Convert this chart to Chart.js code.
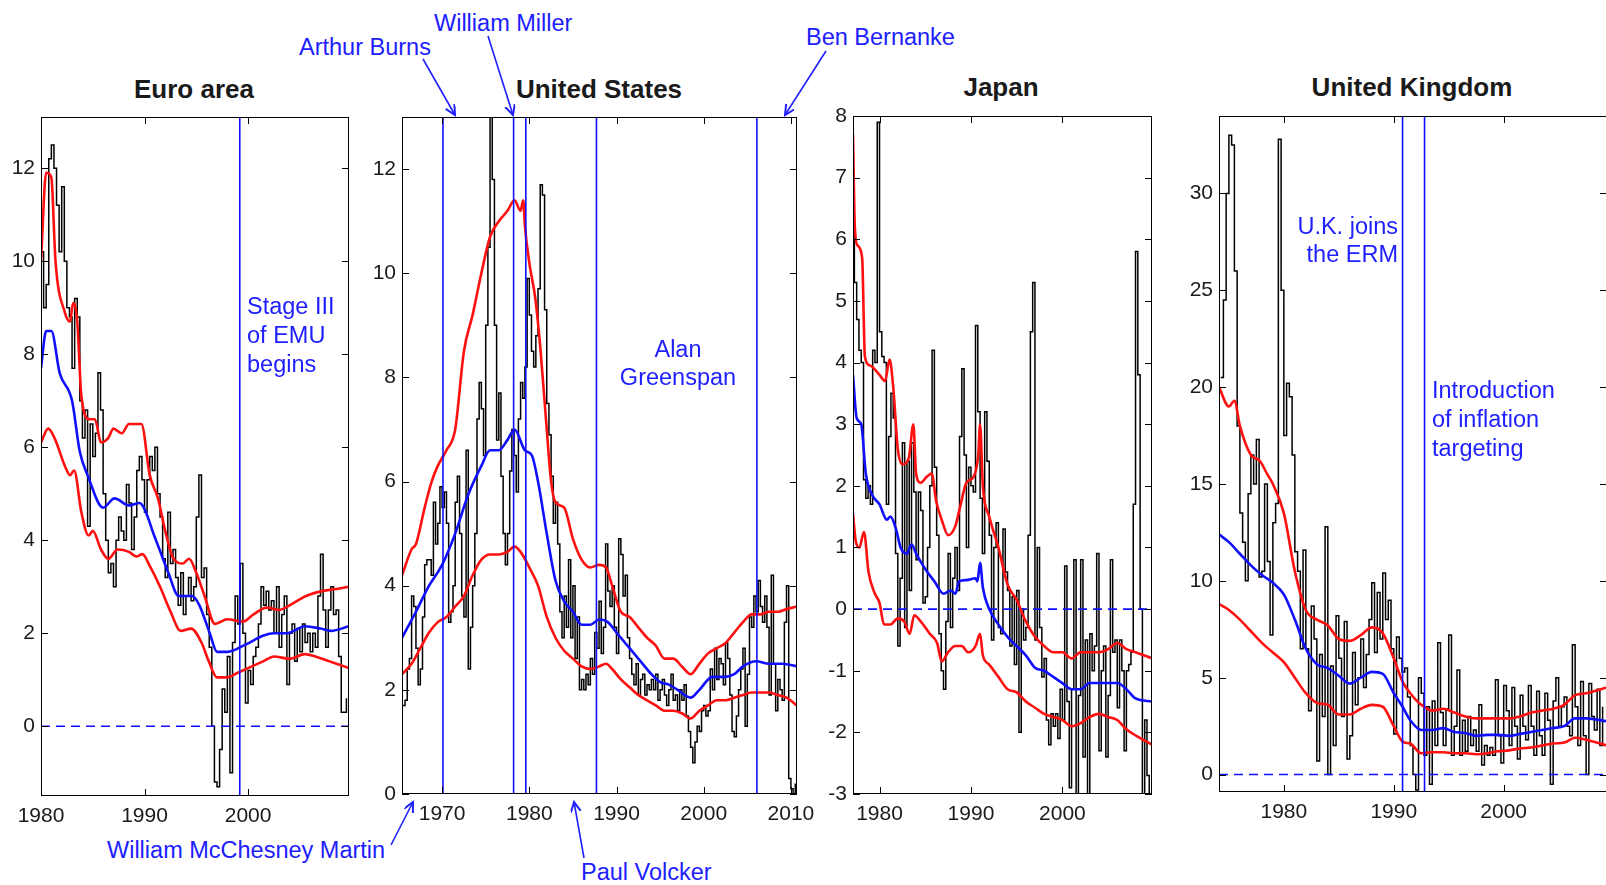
<!DOCTYPE html>
<html>
<head>
<meta charset="utf-8">
<script src="https://cdn.jsdelivr.net/npm/chart.js@4.4.0/dist/chart.umd.min.js"></script>
<style>
  body { margin: 0; background: #fff; width: 1606px; height: 885px; overflow: hidden; position: relative;
         font-family: "Liberation Sans", Arial, sans-serif; }
  canvas { position: absolute; }
  .title { position: absolute; font-weight: bold; font-size: 26px; color: #1a1a1a;
           transform: translate(-50%, -50%); white-space: nowrap; }
  .note { position: absolute; color: #2020ff; font-size: 23.5px; line-height: 29px; white-space: nowrap; }
  svg { position: absolute; left: 0; top: 0; }
</style>
</head>
<body>

<div class="title" style="left:194px;top:89px">Euro area</div>
<div class="title" style="left:599px;top:89px">United States</div>
<div class="title" style="left:1001px;top:87px">Japan</div>
<div class="title" style="left:1412px;top:87px">United Kingdom</div>

<canvas id="euroChart"></canvas>
<canvas id="usChart"></canvas>
<canvas id="japanChart"></canvas>
<canvas id="ukChart"></canvas>

<div class="note" style="left:247px;top:292px">Stage III<br>of EMU<br>begins</div>
<div class="note" style="left:678px;top:335px;transform:translateX(-50%);text-align:center;line-height:28px">Alan<br>Greenspan</div>
<div class="note" style="right:208px;top:212px;text-align:right;line-height:28px">U.K. joins<br>the ERM</div>
<div class="note" style="left:1432px;top:376px">Introduction<br>of inflation<br>targeting</div>
<div class="note" style="left:299px;top:33px">Arthur Burns</div>
<div class="note" style="left:434px;top:9px">William Miller</div>
<div class="note" style="left:806px;top:23px">Ben Bernanke</div>
<div class="note" style="left:107px;top:836px">William McChesney Martin</div>
<div class="note" style="left:581px;top:858px">Paul Volcker</div>

<svg width="1606" height="885">
  <defs>
    <marker id="head" markerWidth="12" markerHeight="12" refX="10" refY="5" orient="auto" markerUnits="userSpaceOnUse">
      <path d="M0,0 L10,5 L0,10" fill="none" stroke="#2020ff" stroke-width="2"/>
    </marker>
  </defs>
  <g stroke="#2020ff" stroke-width="1.6" marker-end="url(#head)">
    <line x1="423" y1="59" x2="455" y2="115"/>
    <line x1="488" y1="36" x2="513" y2="115"/>
    <line x1="826" y1="51" x2="785" y2="115"/>
    <line x1="391" y1="845" x2="413" y2="802"/>
    <line x1="584" y1="858" x2="574" y2="802"/>
  </g>
</svg>

<script>
// ---- data: black = observed inflation (quarterly, first value at *Start), blue = trend, red = bands

const euroStart = 1980;
const euroLevel = [
  10.2, 9.0, 9.5, 12.2, 12.5, 12.0, 11.2, 10.2, 11.6, 10.0, 9.0, 8.8, 7.7, 9.2, 8.8, 7.0, 6.2, 6.8, 4.3, 6.5,
  5.8, 6.3, 7.6, 6.8, 5.0, 4.0, 3.3, 3.5, 3.0, 4.0, 4.5, 4.2, 4.0, 5.2, 4.8, 3.8, 4.5, 5.5, 5.8, 5.3,
  4.6, 5.3, 5.8, 5.5, 6.0, 5.0, 4.5, 3.6, 3.2, 4.6, 3.5, 3.8, 3.2, 2.6, 3.3, 2.4, 2.8, 3.2, 2.7, 3.0,
  4.5, 5.4, 3.2, 3.4, 2.4, 1.7, 0.0, -1.2, -1.3, -0.5, 0.8, 0.3, 1.5, -1.0, 1.8, 2.8, 2.2, 3.5, 2.0, 0.5,
  1.2, 0.9, 1.5, 1.7, 2.2, 3.0, 2.6, 2.9, 2.5, 2.7, 2.0, 3.0, 1.7, 2.4, 2.8, 0.9, 2.0, 2.2, 1.4, 2.1,
  1.6, 2.2, 1.8, 2.0, 1.6, 2.0, 1.7, 2.8, 3.7, 2.5, 1.7, 2.5, 3.0, 2.4, 2.5, 1.5, 0.3, 0.3, 0.6
];
const euroTrendYears = [1980, 1980.5, 1981, 1981.8, 1983, 1983.75, 1984.5, 1986, 1987.1, 1988.5, 1989.5, 1991.1, 1992.3, 1993.3,
  1994.6, 1995.3, 1996.3, 1997, 1998, 1999.7, 2001.5, 2002.5, 2003.8, 2005.5, 2007, 2008, 2009.75];
const euroTrend = [7.7, 8.5, 8.5, 7.6, 7.0, 5.9, 5.4, 4.7, 4.9, 4.75, 4.8, 4.0, 3.3, 2.8,
  2.8, 2.6, 2.0, 1.6, 1.6, 1.75, 1.95, 2.0, 2.0, 2.15, 2.1, 2.05, 2.15];
const euroUpperYears = [1980, 1980.5, 1981, 1981.4, 1982.3, 1982.8, 1983.1, 1983.5, 1983.9, 1984.7, 1985.2, 1985.8, 1986.5,
  1987, 1987.8, 1988.5, 1989.7, 1990.5, 1991.3, 1992, 1992.8, 1993.7, 1994.3, 1995, 1995.8, 1996.8, 1998, 1999.5,
  2000.5, 2001.8, 2003, 2004, 2005.6, 2007, 2008.5, 2009.75];
const euroUpper = [10.0, 11.9, 11.8, 10.0, 8.9, 8.7, 9.1, 8.7, 7.1, 6.6, 6.6, 6.1, 6.2,
  6.4, 6.3, 6.5, 6.5, 5.4, 4.9, 4.2, 3.6, 3.5, 3.6, 3.3, 2.8, 2.2, 2.3, 2.25,
  2.4, 2.55, 2.5, 2.6, 2.8, 2.9, 2.95, 3.0];
const euroLowerYears = [1980, 1980.7, 1981.3, 1982.3, 1982.8, 1983.2, 1983.9, 1984.6, 1985, 1985.8, 1986.5, 1987.4, 1988.5,
  1989.2, 1989.8, 1990.5, 1991.5, 1992.5, 1993.5, 1994.5, 1995.5, 1996.2, 1997, 1998, 1999, 2000, 2001.5, 2002.5,
  2004, 2005.5, 2006.5, 2007.8, 2009.75];
const euroLower = [6.1, 6.4, 6.2, 5.6, 5.4, 5.5, 4.6, 4.1, 4.2, 3.8, 3.6, 3.8, 3.75,
  3.65, 3.7, 3.45, 3.0, 2.47, 2.05, 2.1, 1.8, 1.4, 1.05, 1.05, 1.15, 1.25, 1.4, 1.5,
  1.45, 1.55, 1.5, 1.4, 1.25];
const euroEvents = [1999.2];
const euroXTicks = [1980, 1990, 2000];
const euroYTicks = [0, 2, 4, 6, 8, 10, 12];

const usStart = 1965.5;
const usLevel = [
  1.7, 1.8, 2.4, 2.6, 3.8, 3.6, 2.8, 2.1, 2.4, 3.4, 4.4, 4.5, 4.5, 4.2, 5.6, 4.8,
  5.2, 5.9, 5.5, 5.8, 5.2, 3.3, 3.5, 4.0, 5.6, 6.1, 5.0, 3.8, 3.4, 6.6, 2.4, 3.2,
  4.0, 5.0, 7.2, 7.9, 7.4, 6.5, 9.0, 10.5, 13.8, 11.8, 9.0, 6.8, 7.7, 6.1, 5.0, 4.4,
  5.0, 6.2, 7.0, 6.5, 5.8, 7.2, 7.9, 7.6, 8.2, 9.9, 9.2, 8.5, 8.2, 8.8, 9.7, 11.7,
  11.5, 9.3, 7.5, 6.9, 6.1, 5.2, 5.6, 4.8, 3.5, 3.0, 3.8, 3.2, 4.5, 3.0, 4.0, 2.6,
  3.4, 2.0, 2.2, 2.0, 2.3, 2.1, 2.6, 2.3, 3.1, 2.8, 3.7, 2.7, 3.2, 4.8, 3.9, 3.6,
  4.0, 3.2, 2.7, 4.9, 4.6, 3.8, 4.2, 3.0, 2.6, 2.3, 2.1, 2.5, 1.9, 2.2, 2.3, 1.9,
  2.1, 2.0, 2.2, 2.0, 2.3, 1.8, 2.0, 2.2, 1.9, 1.7, 2.0, 2.3, 1.8, 1.9, 1.6, 2.0,
  1.8, 2.1, 1.5, 1.2, 0.9, 0.6, 1.0, 1.3, 1.2, 1.6, 1.7, 1.5, 1.6, 2.4, 2.0, 2.8,
  2.2, 2.6, 2.5, 2.1, 2.9, 2.6, 1.9, 1.2, 1.1, 1.5, 2.0, 2.4, 2.8, 1.3, 2.3, 3.4,
  3.2, 3.8, 3.5, 4.1, 3.6, 3.3, 3.8, 3.2, 1.9, 4.2, 2.5, 1.6, 2.2, 2.0, 1.8, 3.3,
  4.0, 0.3, 0.1, 0.0, 0.2
];
const usTrendYears = [1965.4, 1967, 1968.5, 1970, 1971.5, 1973, 1974.5, 1975.5, 1976.5, 1977.5, 1978.3, 1979.5, 1980.3,
  1981, 1982, 1983, 1984, 1985, 1986, 1987, 1988, 1989, 1990, 1991, 1992, 1993, 1994, 1995, 1996, 1997, 1998.5,
  1999.5, 2001, 2002.5, 2003.5, 2004.5, 2006, 2007.5, 2009, 2010.7];
const usTrend = [3.0, 3.5, 4.0, 4.4, 5.0, 5.75, 6.3, 6.6, 6.6, 6.8, 7.0, 6.6, 6.5,
  6.0, 5.0, 4.1, 3.7, 3.5, 3.25, 3.25, 3.35, 3.3, 3.1, 2.9, 2.7, 2.5, 2.3, 2.15, 2.1, 2.0, 1.85,
  2.0, 2.25, 2.25, 2.3, 2.45, 2.55, 2.5, 2.5, 2.45];
const usUpperYears = [1965.4, 1966.5, 1967, 1968, 1968.8, 1969.5, 1970.5, 1971.5, 1972.5, 1973.5, 1974.5, 1975.5, 1976.5,
  1977.5, 1978.3, 1979, 1979.3, 1979.5, 1980, 1980.7, 1981.3, 1982, 1982.5, 1983, 1984, 1985, 1986, 1987, 1988,
  1988.8, 1989.5, 1990.5, 1991.5, 1992.5, 1993.5, 1994.5, 1995.5, 1996.5, 1997.5, 1998.5, 1999.5, 2000.5, 2001.5,
  2002.5, 2003.5, 2004.5, 2005.5, 2006.5, 2007.5, 2008.5, 2009.5, 2010.7];
const usUpper = [4.2, 4.7, 4.8, 5.5, 6.0, 6.3, 6.6, 7.0, 8.5, 9.2, 10.0, 10.7, 11.0,
  11.2, 11.4, 11.2, 11.4, 10.9, 10.2, 9.5, 8.5, 7.0, 6.0, 5.6, 5.5, 4.9, 4.5, 4.35, 4.4,
  4.35, 4.0, 3.5, 3.4, 3.2, 3.0, 2.85, 2.6, 2.6, 2.45, 2.3, 2.5, 2.7, 2.8,
  2.9, 3.1, 3.3, 3.45, 3.45, 3.5, 3.5, 3.55, 3.6];
const usLowerYears = [1965.4, 1966.5, 1967.5, 1968.5, 1969.5, 1970.5, 1971.5, 1972.5, 1973.5, 1974.5, 1975.5, 1976.5, 1977.5,
  1978.3, 1979, 1980, 1981, 1982, 1983, 1984, 1985, 1986, 1987, 1988, 1988.8, 1989.5, 1990.5, 1991.5, 1992.5,
  1993.5, 1994.5, 1995.5, 1996.5, 1997.5, 1998.5, 1999.5, 2000.5, 2001.5, 2002.5, 2003.5, 2004.5, 2005.5, 2006.5,
  2007.5, 2008.5, 2009.5, 2010.7];
const usLower = [2.3, 2.5, 2.8, 3.1, 3.3, 3.4, 3.6, 3.8, 4.2, 4.5, 4.6, 4.6, 4.65,
  4.75, 4.65, 4.35, 4.0, 3.4, 3.0, 2.75, 2.6, 2.45, 2.4, 2.45, 2.5, 2.4, 2.2, 2.05, 1.9,
  1.8, 1.7, 1.6, 1.6, 1.55, 1.45, 1.6, 1.7, 1.8, 1.8, 1.85, 1.9, 1.95, 1.95,
  1.95, 1.9, 1.85, 1.7];
const usEvents = [1970.1, 1978.2, 1979.6, 1987.7, 2006.1];
const usXTicks = [1970, 1980, 1990, 2000, 2010];
const usYTicks = [0, 2, 4, 6, 8, 10, 12];

const japanStart = 1977;
const japanLevel = [
  6.2, 5.3, 4.7, 4.2, 4.0, 2.1, 1.8, 2.0, 1.7, 4.2, 4.0, 7.9, 4.5, 4.1, 4.0, 1.7, 2.8, 3.5, 3.1, 0.9,
  -0.6, 0.5, 2.7, -0.3, 2.4, 0.3, 2.7, 1.9, 0.8, 1.9, 1.6, 0.1, 0.2, 1.0, 2.0, 4.2, 2.3, 1.2, -0.4, -1.0,
  -1.3, -0.2, 0.9, -0.3, 0.5, 1.0, 0.3, 2.8, 3.9, 2.5, 1.0, 2.3, 2.0, 1.9, 4.6, 3.2, 1.8, 0.9, 3.2, 2.4,
  1.2, -0.5, 1.0, 1.4, -0.3, -0.4, 1.3, 0.6, 0.3, -0.6, 0.2, -0.9, 0.3, -2.0, 0.0, -0.5, -0.3, 1.2, 4.5, 5.3,
  -0.5, 1.0, -0.3, -1.1, -0.8, -1.8, -2.2, -1.7, -1.9, -1.7, -2.1, -1.3, -1.8, 0.7, -1.5, -2.9, -1.3, 0.8, -3.0, -1.4,
  0.8, -2.4, -0.5, -3.0, -0.4, -1.0, -0.6, 0.9, -2.3, -1.0, -0.6, -2.4, -1.4, 0.8, -0.7, -0.5, -1.6, -0.5, -1.0, -2.3,
  -1.0, -0.9, -0.7, 1.7, 5.8, 3.8, 0.0, -3.0, -1.8, -2.7, -3.0
];
const japanTrendYears = [1977.1, 1977.5, 1978, 1978.5, 1979.2, 1980, 1980.8, 1981.2, 1981.8, 1982.3, 1983, 1983.5, 1984,
  1985, 1986, 1987, 1987.8, 1988.3, 1988.7, 1989.5, 1990.5, 1990.7, 1991, 1991.3, 1992, 1993, 1994, 1995, 1996,
  1997, 1998, 1999, 2000, 2001, 2002, 2003, 2004, 2005, 2006, 2007, 2008, 2009.8];
const japanTrend = [3.8, 3.1, 3.0, 2.2, 1.85, 1.7, 1.45, 1.5, 1.3, 1.0, 0.9, 1.05, 0.9,
  0.65, 0.45, 0.25, 0.3, 0.25, 0.45, 0.47, 0.5, 0.45, 0.75, 0.35, 0.0, -0.25, -0.45, -0.6, -0.75,
  -0.95, -1.0, -1.1, -1.2, -1.3, -1.3, -1.2, -1.2, -1.2, -1.2, -1.3, -1.45, -1.5];
const japanUpperYears = [1977.1, 1977.3, 1977.6, 1978.1, 1978.4, 1979, 1980, 1980.6, 1981.1, 1981.5, 1982, 1982.5, 1983.2,
  1983.7, 1984, 1984.5, 1985.2, 1985.7, 1986.2, 1986.8, 1987.5, 1988.3, 1988.8, 1989.5, 1990.3, 1990.8, 1991, 1991.3,
  1992, 1993, 1994, 1995, 1996, 1997, 1998, 1999, 2000, 2001, 2002, 2003, 2004, 2005, 2006, 2007, 2008, 2009.8];
const japanUpper = [7.7, 6.2, 5.9, 5.7, 4.1, 3.95, 3.8, 3.7, 4.05, 3.6, 2.6, 2.35, 2.45,
  3.0, 2.2, 2.05, 2.15, 2.2, 1.75, 1.45, 1.2, 1.35, 1.65, 2.05, 2.15, 2.5, 3.0, 2.0,
  1.5, 1.0, 0.4, 0.15, -0.2, -0.45, -0.6, -0.7, -0.7, -0.8, -0.7, -0.7, -0.7, -0.65, -0.55, -0.65, -0.7, -0.8];
const japanLowerYears = [1977.1, 1977.4, 1977.8, 1978.3, 1978.8, 1979.5, 1980, 1980.5, 1981.2, 1982, 1982.7, 1983.3, 1983.8,
  1984.5, 1985.5, 1986.3, 1986.8, 1987.5, 1988.3, 1989, 1989.7, 1990.5, 1991, 1991.3, 1992, 1993, 1994, 1995, 1996,
  1997, 1998, 1999, 2000, 2001, 2002, 2003, 2004, 2005, 2006, 2007, 2008, 2009.8];
const japanLower = [1.55, 1.1, 1.0, 1.25, 0.6, 0.25, 0.1, -0.25, -0.25, -0.15, -0.2, -0.4, -0.1,
  -0.2, -0.4, -0.55, -0.85, -0.7, -0.6, -0.6, -0.7, -0.6, -0.4, -0.75, -0.9, -1.1, -1.3, -1.35, -1.5,
  -1.6, -1.7, -1.75, -1.8, -1.9, -1.85, -1.75, -1.7, -1.75, -1.8, -1.95, -2.05, -2.2];
const japanEvents = [];
const japanXTicks = [1980, 1990, 2000];
const japanYTicks = [-3, -2, -1, 0, 1, 2, 3, 4, 5, 6, 7, 8];

const ukStart = 1974.25;
const ukLevel = [
  20.5, 24.5, 30.0, 33.0, 32.5, 26.0, 18.0, 13.5, 12.0, 10.0, 14.5, 16.5, 15.0, 17.3, 10.2, 10.5, 15.0, 11.0, 7.2, 13.0,
  14.0, 32.8, 25.0, 17.5, 20.2, 19.5, 16.5, 11.5, 10.5, 6.5, 11.6, 6.5, 3.3, 8.7, 7.0, 0.7, 6.2, 3.0, 12.8, 0.0,
  5.6, 1.5, 8.2, 6.0, 3.0, 7.9, 0.8, 2.0, 6.3, 3.6, 5.0, 7.0, 4.5, 6.2, 8.0, 9.9, 6.3, 9.4, 7.0, 10.4,
  8.0, 9.0, 6.5, 2.1, 7.1, 6.0, 5.3, 5.5, 4.0, 1.5, 0.0, -0.8, 5.0, 4.2, 1.0, 3.5, -0.5, 3.8, 1.5, 6.8,
  3.2, 1.5, 3.4, 7.2, 1.0, 2.5, 5.4, 1.0, 2.8, 1.2, 3.0, 1.5, 2.3, 1.2, 3.6, 0.5, 1.5, 1.0, 1.4, 1.0,
  4.9, 2.0, 0.6, 4.6, 3.3, 1.5, 4.5, 2.5, 0.8, 4.1, 2.5, 1.8, 4.6, 2.5, 1.0, 4.3, 2.0, 1.0, 4.2, 2.8,
  -0.5, 3.8, 5.0, 2.5, 3.5, 4.0, 2.5, 2.0, 6.7, 3.5, 1.5, 4.8, 2.0, 0.0, 4.7, 3.0, 2.3, 4.4, 1.5, 3.5
];
const ukTrendYears = [1974.1, 1975, 1976, 1977, 1978, 1979, 1980, 1981, 1982, 1983, 1984, 1985, 1986, 1987, 1988, 1989,
  1990, 1990.8, 1991.5, 1992.5, 1993.5, 1994.5, 1995.5, 1996.5, 1997.5, 1998.5, 1999.5, 2000.5, 2001.5, 2002.5,
  2003.5, 2004.5, 2005.5, 2006.5, 2007.5, 2009.4];
const ukTrend = [12.4, 12.0, 11.4, 10.8, 10.3, 9.9, 9.3, 8.0, 6.5, 5.7, 5.5, 5.1, 4.7, 5.0, 5.3, 5.2,
  4.2, 3.5, 2.8, 2.3, 2.3, 2.4, 2.2, 2.15, 2.0, 2.05, 2.05, 2.0, 2.1, 2.2,
  2.3, 2.4, 2.5, 2.9, 2.9, 2.75];
const ukUpperYears = [1974.1, 1975, 1975.5, 1976, 1977, 1977.8, 1978.5, 1979, 1980, 1981, 1982, 1983, 1984, 1985, 1986,
  1987, 1988, 1989, 1990, 1990.8, 1991.5, 1992.5, 1993.5, 1994.5, 1995.5, 1996.5, 1997.5, 1998.5, 1999.5, 2000.5,
  2001.5, 2002.5, 2003.5, 2004.5, 2005.5, 2006.5, 2007.5, 2009.4];
const ukUpper = [20.0, 19.0, 19.3, 18.0, 16.5, 16.2, 15.5, 15.0, 13.5, 10.5, 8.5, 8.0, 7.7, 7.0, 6.9,
  7.2, 7.6, 7.3, 6.0, 4.8, 4.2, 3.6, 3.3, 3.4, 3.2, 3.0, 2.9, 2.9, 2.9, 2.9,
  3.0, 3.2, 3.3, 3.4, 3.6, 4.1, 4.2, 4.5];
const ukLowerYears = [1974.1, 1975, 1976, 1977, 1978, 1979, 1980, 1981, 1982, 1983, 1984, 1985, 1986, 1987, 1988, 1989,
  1990, 1990.8, 1991.5, 1992.5, 1993.5, 1994.5, 1995.5, 1996.5, 1997.5, 1998.5, 1999.5, 2000.5, 2001.5, 2002.5,
  2003.5, 2004.5, 2005.5, 2006.5, 2007.5, 2009.4];
const ukLower = [8.8, 8.5, 8.0, 7.4, 6.8, 6.3, 5.8, 5.0, 4.2, 3.7, 3.6, 3.1, 3.1, 3.4, 3.6, 3.5,
  2.5, 1.7, 1.6, 1.1, 1.15, 1.15, 1.1, 1.1, 1.05, 1.1, 1.2, 1.25, 1.35, 1.4,
  1.5, 1.6, 1.65, 1.9, 1.8, 1.5];
const ukEvents = [1990.8, 1992.8];
const ukXTicks = [1980, 1990, 2000];
const ukYTicks = [0, 5, 10, 15, 20, 25, 30];

// ---- layout (page pixels of each plot box) and axis ranges
const panels = [
  { id: 'euroChart', left: 41, right: 349, top: 117, bottom: 796, xMin: 1980, xMax: 2009.75, yMin: -1.5, yMax: 13.1,
    start: euroStart, level: euroLevel, trend: [euroTrendYears, euroTrend], upper: [euroUpperYears, euroUpper],
    lower: [euroLowerYears, euroLower], events: euroEvents, xTicks: euroXTicks, yTicks: euroYTicks },
  { id: 'usChart', left: 402, right: 797, top: 117, bottom: 794, xMin: 1965.4, xMax: 2010.7, yMin: 0, yMax: 13,
    start: usStart, level: usLevel, trend: [usTrendYears, usTrend], upper: [usUpperYears, usUpper],
    lower: [usLowerYears, usLower], events: usEvents, xTicks: usXTicks, yTicks: usYTicks },
  { id: 'japanChart', left: 853, right: 1152, top: 116, bottom: 794, xMin: 1977.1, xMax: 2009.8, yMin: -3, yMax: 8,
    start: japanStart, level: japanLevel, trend: [japanTrendYears, japanTrend], upper: [japanUpperYears, japanUpper],
    lower: [japanLowerYears, japanLower], events: japanEvents, xTicks: japanXTicks, yTicks: japanYTicks },
  { id: 'ukChart', left: 1219, right: 1607, top: 116, bottom: 792, xMin: 1974.1, xMax: 2009.4, yMin: -0.9, yMax: 34,
    start: ukStart, level: ukLevel, trend: [ukTrendYears, ukTrend], upper: [ukUpperYears, ukUpper],
    lower: [ukLowerYears, ukLower], events: ukEvents, xTicks: ukXTicks, yTicks: ukYTicks }
];

const AXIS_W = 52;
const AXIS_H = 40;
const PAD_TOP = 14;
const PAD_RIGHT = 28;

const pairs = (xs, ys) => xs.map((x, i) => ({ x, y: ys[i] }));

// no automatic label padding: the plot box must sit exactly where the layout says
function fixAxis(axis, key, size) {
  axis[key] = size;
  axis.paddingTop = 0;
  axis.paddingBottom = 0;
  axis.paddingLeft = 0;
  axis.paddingRight = 0;
}

// box frame with inward ticks on all four sides, like the original figure
const boxTicks = {
  id: 'boxTicks',
  afterDatasetsDraw(chart) {
    const { ctx, chartArea: a, scales: { x, y } } = chart;
    const len = 7;
    ctx.save();
    ctx.strokeStyle = '#000';
    ctx.lineWidth = 1;
    ctx.strokeRect(a.left + 0.5, a.top + 0.5, a.right - a.left - 1, a.bottom - a.top - 1);
    ctx.beginPath();
    x.ticks.forEach(t => {
      const px = Math.round(x.getPixelForValue(t.value)) + 0.5;
      ctx.moveTo(px, a.bottom); ctx.lineTo(px, a.bottom - len);
      ctx.moveTo(px, a.top); ctx.lineTo(px, a.top + len);
    });
    y.ticks.forEach(t => {
      const py = Math.round(y.getPixelForValue(t.value)) + 0.5;
      ctx.moveTo(a.left, py); ctx.lineTo(a.left + len, py);
      ctx.moveTo(a.right, py); ctx.lineTo(a.right - len, py);
    });
    ctx.stroke();
    ctx.restore();
  }
};

function buildPanel(p) {
  const canvas = document.getElementById(p.id);
  canvas.width = p.right - p.left + AXIS_W + PAD_RIGHT;
  canvas.height = p.bottom - p.top + AXIS_H + PAD_TOP;
  canvas.style.left = (p.left - AXIS_W) + 'px';
  canvas.style.top = (p.top - PAD_TOP) + 'px';

  const levelYears = p.level.map((_, i) => p.start + i * 0.25);

  const datasets = [];
  p.events.forEach(ev => datasets.push({
    data: [{ x: ev, y: p.yMin }, { x: ev, y: p.yMax }],
    borderColor: '#1010ff', borderWidth: 1.6
  }));
  datasets.push({ data: pairs(p.trend[0], p.trend[1]), borderColor: '#1010ff', borderWidth: 2.6, cubicInterpolationMode: 'monotone' });
  datasets.push({ data: pairs(p.upper[0], p.upper[1]), borderColor: '#ff1010', borderWidth: 2.6, cubicInterpolationMode: 'monotone' });
  datasets.push({ data: pairs(p.lower[0], p.lower[1]), borderColor: '#ff1010', borderWidth: 2.6, cubicInterpolationMode: 'monotone' });
  datasets.push({
    data: [{ x: p.xMin, y: 0 }, { x: p.xMax, y: 0 }],
    borderColor: '#1010ff', borderWidth: 1.6, borderDash: [9, 6]
  });
  datasets.push({ data: pairs(levelYears, p.level), borderColor: '#000', borderWidth: 1.5, stepped: true });

  const tickFont = { family: 'Liberation Sans', size: 21 };

  new Chart(canvas, {
    type: 'line',
    data: { datasets },
    options: {
      responsive: false,
      animation: false,
      devicePixelRatio: 1,
      layout: { padding: { top: PAD_TOP, right: PAD_RIGHT, left: 0, bottom: 0 } },
      elements: { point: { radius: 0 }, line: { fill: false } },
      plugins: { legend: { display: false }, tooltip: { enabled: false } },
      scales: {
        x: {
          type: 'linear', min: p.xMin, max: p.xMax,
          grid: { display: false, drawTicks: false }, border: { display: false },
          afterBuildTicks: axis => { axis.ticks = p.xTicks.map(v => ({ value: v })); },
          afterFit: axis => fixAxis(axis, 'height', AXIS_H),
          ticks: { color: '#1a1a1a', padding: 8, maxRotation: 0, autoSkip: false,
                   font: tickFont, callback: v => String(v) }
        },
        y: {
          type: 'linear', min: p.yMin, max: p.yMax,
          grid: { display: false, drawTicks: false }, border: { display: false },
          afterBuildTicks: axis => { axis.ticks = p.yTicks.map(v => ({ value: v })); },
          afterFit: axis => fixAxis(axis, 'width', AXIS_W),
          ticks: { color: '#1a1a1a', padding: 6, autoSkip: false,
                   font: tickFont, callback: v => String(v) }
        }
      }
    },
    plugins: [boxTicks]
  });
}

panels.forEach(buildPanel);
</script>
</body>
</html>
